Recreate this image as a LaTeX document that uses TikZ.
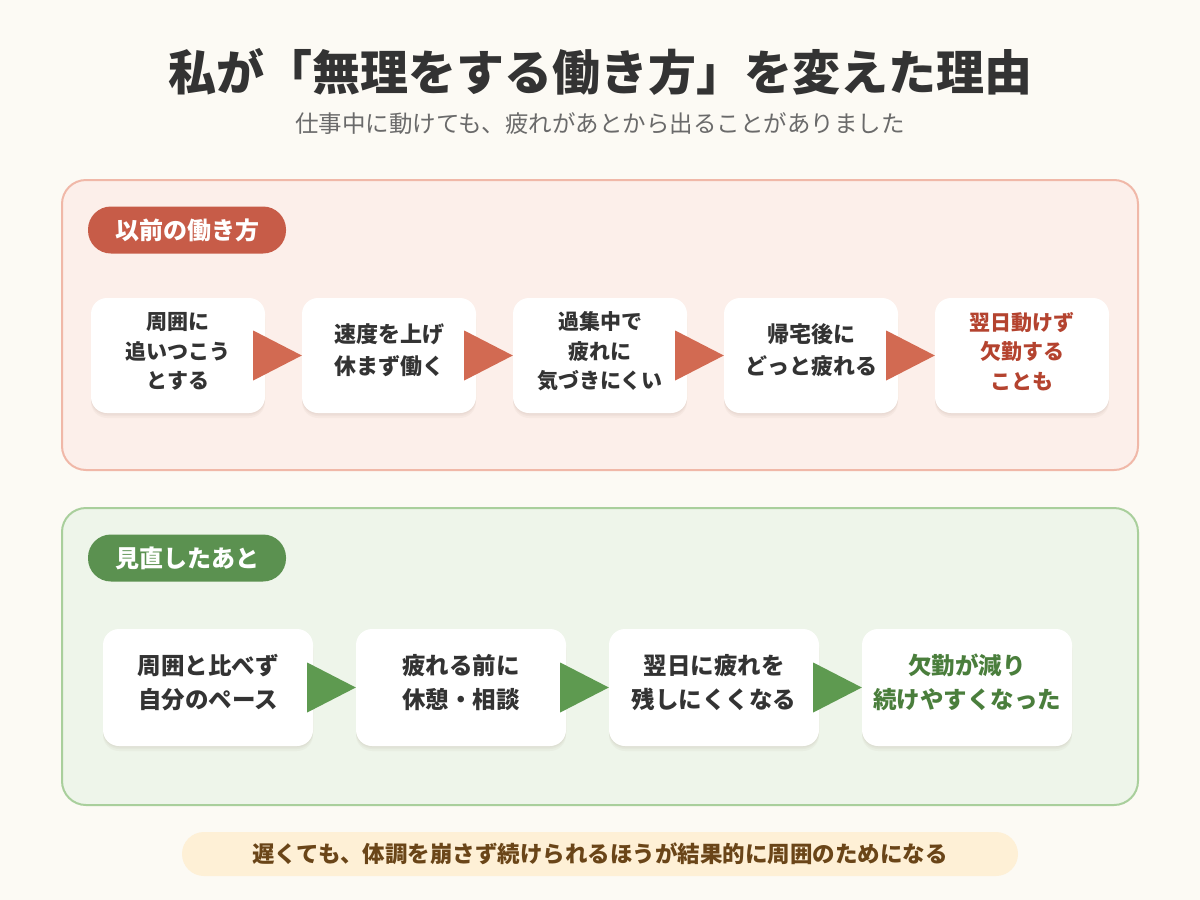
\documentclass[tikz,border=0pt]{standalone}
\usepackage{fontspec}
\setmainfont{Noto Sans CJK JP}
\usetikzlibrary{calc}
\definecolor{bg}{HTML}{FCFAF4}
\definecolor{redpanel}{HTML}{FCEFEA}
\definecolor{redborder}{HTML}{F0B8A8}
\definecolor{redpill}{HTML}{C75C48}
\definecolor{redtri}{HTML}{D26A52}
\definecolor{redtext}{HTML}{B4432F}
\definecolor{greenpanel}{HTML}{EEF5EA}
\definecolor{greenborder}{HTML}{A9CF9C}
\definecolor{greenpill}{HTML}{5B9150}
\definecolor{greentri}{HTML}{5E9A50}
\definecolor{greentext}{HTML}{4A7E3C}
\definecolor{bannerfill}{HTML}{FEF0D6}
\definecolor{bannertext}{HTML}{6A4518}
\definecolor{darktext}{HTML}{333333}
\definecolor{subtext}{HTML}{6A6A6A}
\definecolor{shadowcol}{HTML}{8A7060}
\tikzset{
  panelbox/.style={line width=2pt, rounded corners=24pt},
  pillbox/.style={rounded corners=23pt, minimum width=198pt, minimum height=47pt, inner sep=0pt, text=white, font=\bfseries\fontsize{24}{28}\selectfont},
  stepbox/.style={fill=white, rounded corners=16pt, inner sep=0pt,
     preaction={fill=shadowcol, fill opacity=0.05, transform canvas={yshift=-5pt}},
     preaction={fill=shadowcol, fill opacity=0.05, transform canvas={yshift=-3pt}},
     preaction={fill=shadowcol, fill opacity=0.05, transform canvas={yshift=-1.5pt}}},
  topbox/.style={stepbox, minimum width=174pt, minimum height=115pt},
  botbox/.style={stepbox, minimum width=210pt, minimum height=117pt},
  steptext/.style={align=center, text=darktext, inner sep=0pt},
  twoline/.style={steptext, font=\bfseries\fontsize{22}{32}\selectfont},
  threeline/.style={steptext, font=\bfseries\fontsize{21}{29.5}\selectfont},
  botline/.style={steptext, font=\bfseries\fontsize{23.5}{34}\selectfont},
}
\begin{document}
\begin{tikzpicture}[x=1pt,y=-1pt]
\useasboundingbox (0,0) rectangle (1200,900);
\fill[bg] (0,0) rectangle (1200,900);

% title
\node[text=darktext, font=\bfseries\fontsize{48}{56}\selectfont] (title) at (600,72) {私が「無理をする働き方」を変えた理由};
\node[text=subtext, font=\fontsize{23.5}{28}\selectfont] (subtitle) at (600,124) {仕事中に動けても、疲れがあとから出ることがありました};

% top panel
\draw[panelbox, fill=redpanel, draw=redborder] (62,180) rectangle (1138,470);
\node[pillbox, fill=redpill] (pilltop) at (187,230) {以前の働き方};

\node[topbox] (t1) at (178,355.5) {};
\node[topbox] (t2) at (389,355.5) {};
\node[topbox] (t3) at (600,355.5) {};
\node[topbox] (t4) at (811,355.5) {};
\node[topbox] (t5) at (1022,355.5) {};
\node[threeline] (t1txt) at ($(t1.center)+(0,-4)$) {周囲に\\追いつこう\\とする};
\node[twoline] (t2txt) at ($(t2.center)+(0,-5)$) {速度を上げ\\休まず働く};
\node[threeline] (t3txt) at ($(t3.center)+(0,-4)$) {過集中で\\疲れに\\気づきにくい};
\node[twoline] (t4txt) at ($(t4.center)+(0,-5)$) {帰宅後に\\どっと疲れる};
\node[threeline, text=redtext] (t5txt) at ($(t5.center)+(0,-4)$) {翌日動けず\\欠勤する\\ことも};

\foreach \a/\b in {t1/t2,t2/t3,t3/t4,t4/t5}{
  \fill[redtri] ($(\a.east)+(-12,-25)$) -- (\b.west) -- ($(\a.east)+(-12,25)$) -- cycle;
}

% bottom panel
\draw[panelbox, fill=greenpanel, draw=greenborder] (62,508) rectangle (1138,805);
\node[pillbox, fill=greenpill] (pillbot) at (187,558) {見直したあと};

\node[botbox] (b1) at (208,687.5) {};
\node[botbox] (b2) at (461,687.5) {};
\node[botbox] (b3) at (714,687.5) {};
\node[botbox] (b4) at (967,687.5) {};
\node[botline] (b1txt) at ($(b1.center)+(0,-5)$) {周囲と比べず\\自分のペース};
\node[botline] (b2txt) at ($(b2.center)+(0,-5)$) {疲れる前に\\休憩・相談};
\node[botline] (b3txt) at ($(b3.center)+(0,-5)$) {翌日に疲れを\\残しにくくなる};
\node[botline, text=greentext] (b4txt) at ($(b4.center)+(0,-5)$) {欠勤が減り\\続けやすくなった};

\foreach \a/\b in {b1/b2,b2/b3,b3/b4}{
  \fill[greentri] ($(\a.east)+(-6,-25)$) -- (\b.west) -- ($(\a.east)+(-6,25)$) -- cycle;
}

% banner
\node[fill=bannerfill, rounded corners=22pt, minimum width=836pt, minimum height=44pt, inner sep=0pt,
      text=bannertext, font=\bfseries\fontsize{22.5}{26}\selectfont] (banner) at (600,854)
  {遅くても、体調を崩さず続けられるほうが結果的に周囲のためになる};
\end{tikzpicture}
\end{document}
